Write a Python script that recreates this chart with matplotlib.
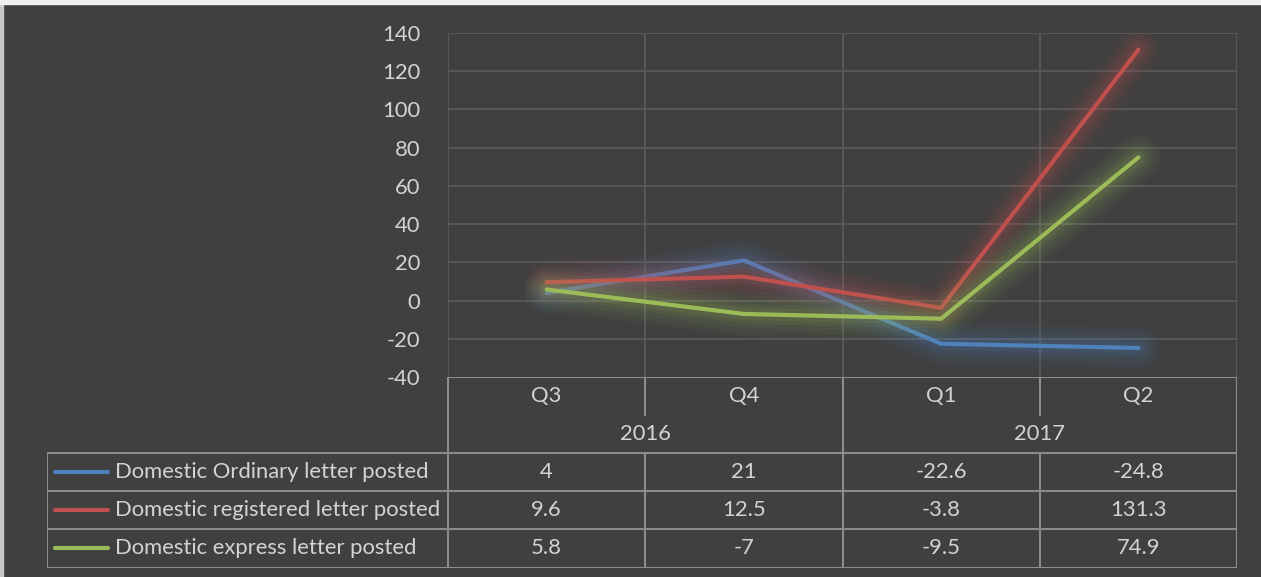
import matplotlib
matplotlib.use("Agg")
import matplotlib.pyplot as plt
import matplotlib.patheffects as pe
from matplotlib.patches import Rectangle

# data
quarters = ["Q3", "Q4", "Q1", "Q2"]
years = ["2016", "2017"]
series_names = [
    "Domestic Ordinary letter posted",
    "Domestic registered letter posted",
    "Domestic express letter posted",
]
ordinary = [4, 21, -22.6, -24.8]
registered = [9.6, 12.5, -3.8, 131.3]
express = [5.8, -7, -9.5, 74.9]
series_colors = ["#4F81BD", "#C0504D", "#9BBB59"]

BG = "#404040"
TXT = "#D3D3D3"
GRID = "#5A5A5A"
TLINE = "#8C8C8C"
FS = 15.8

plt.rcParams["font.family"] = ["Lato", "DejaVu Sans"]

W, H = 1261, 577
fig = plt.figure(figsize=(W / 100, H / 100), dpi=100, facecolor=BG)

# main plot area (pixel box 448..1237, 33..377)
ax = fig.add_axes([448 / W, 1 - 377 / H, 789 / W, 344 / H])
ax.set_facecolor(BG)
x = list(range(len(quarters)))
ax.set_xlim(-0.5, len(quarters) - 0.5)
ax.set_ylim(-40, 140)
ax.set_yticks(range(-40, 141, 20))
ax.set_yticklabels([str(v) for v in range(-40, 141, 20)], color=TXT, fontsize=FS)
ax.tick_params(axis="y", length=0, pad=20)
ax.set_xticks([])
for s in ax.spines.values():
    s.set_visible(False)
for yv in range(-20, 141, 20):
    ax.axhline(yv, color=GRID, lw=1.3, zorder=0)
for xv in [i - 0.5 for i in range(len(quarters) + 1)]:
    ax.axvline(xv, color=GRID, lw=1.3, zorder=0)


def glow(color):
    # soft halo like the Excel glow effect
    effects = []
    for w, a in [(32, 0.045), (26, 0.055), (20, 0.065), (14, 0.08), (9, 0.10)]:
        effects.append(pe.Stroke(linewidth=w, foreground=color, alpha=a))
    effects.append(pe.Normal())
    return effects


for vals, col in zip([ordinary, registered, express], series_colors):
    ax.plot(x, vals, color=col, lw=3, solid_capstyle="round",
            solid_joinstyle="round", path_effects=glow(col), zorder=3)

# data table under the plot
px = 789 / len(quarters)  # pixels per category
left_units = (448 - 47) / px
tab = fig.add_axes([47 / W, 1 - 567.5 / H, (1237 - 47) / W, 190.5 / H])
tab.set_xlim(-0.5 - left_units, len(quarters) - 0.5)
tab.set_ylim(5, 0)
tab.axis("off")
tab.patch.set_alpha(0)

lkw = dict(color=TLINE, lw=1.5, solid_capstyle="projecting")
x0, x1 = -0.5 - left_units, len(quarters) - 0.5
# horizontal lines
tab.plot([-0.5, x1], [0, 0], **lkw)
for r in [2, 3, 4, 5]:
    tab.plot([x0, x1], [r, r], **lkw)
# vertical lines
tab.plot([x0, x0], [2, 5], **lkw)
for xv in [-0.5, 1.5, 3.5]:
    tab.plot([xv, xv], [0, 5], **lkw)
for xv in [0.5, 2.5]:
    tab.plot([xv, xv], [0, 1], **lkw)
    tab.plot([xv, xv], [2, 5], **lkw)

for i, q in enumerate(quarters):
    tab.text(i, 0.5, q, color=TXT, fontsize=FS, ha="center", va="center")
for j, yr in enumerate(years):
    tab.text(2 * j + 0.5, 1.5, yr, color=TXT, fontsize=FS, ha="center", va="center")

lx0 = x0 + 8 / px
lx1 = x0 + 61 / px
tx = x0 + 68 / px
for r, (name, vals, col) in enumerate(zip(series_names, [ordinary, registered, express], series_colors)):
    yc = 2.5 + r
    tab.plot([lx0, lx1], [yc, yc], color=col, lw=3, solid_capstyle="round")
    tab.text(tx, yc, name, color=TXT, fontsize=FS, ha="left", va="center")
    for i, v in enumerate(vals):
        tab.text(i, yc, f"{v:g}", color=TXT, fontsize=FS, ha="center", va="center")

# light frame edges of the original image
fig.patches.append(Rectangle((0, 0), 3 / W, 1, transform=fig.transFigure,
                             color="#C8C8C8", zorder=-1))
fig.patches.append(Rectangle((0, 1 - 4 / H), 1, 4 / H, transform=fig.transFigure,
                             color="#F0F0F0", zorder=-1))

fig.savefig("out.png", dpi=100, facecolor=BG)
